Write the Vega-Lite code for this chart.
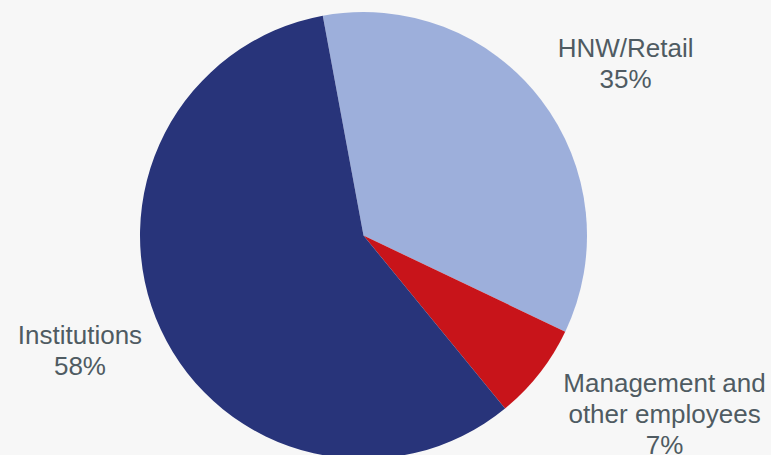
{
  "$schema": "https://vega.github.io/schema/vega-lite/v6.json",
  "width": 727,
  "height": 455,
  "autosize": "none",
  "padding": {"left": 0, "top": 8, "right": 44, "bottom": 0},
  "background": "#F7F7F7",
  "view": {"stroke": null},
  "data": {
    "values": [
      {"segment": "HNW/Retail", "label": "HNW/Retail\n35%", "share": 35, "rank": 1},
      {"segment": "Management and other employees", "label": "Management and\nother employees\n7%", "share": 7, "rank": 2},
      {"segment": "Institutions", "label": "Institutions\n58%", "share": 58, "rank": 3}
    ]
  },
  "encoding": {
    "theta": {"field": "share", "type": "quantitative", "stack": true, "scale": {"range": [-0.1833, 6.0999]}},
    "order": {"field": "rank", "type": "ordinal"}
  },
  "layer": [
    {
      "mark": {"type": "arc", "radius": 223.5, "stroke": null},
      "encoding": {
        "color": {
          "field": "segment",
          "type": "nominal",
          "scale": {
            "domain": ["HNW/Retail", "Management and other employees", "Institutions"],
            "range": ["#9DAFDB", "#C8141A", "#28347A"]
          },
          "legend": null
        }
      }
    },
    {
      "mark": {"type": "text", "radius": 314, "dx": 13, "dy": 5, "font": "Liberation Sans", "fontSize": 26, "lineHeight": 31, "lineBreak": "\n", "align": "center", "baseline": "middle", "color": "#4F5B62"},
      "encoding": {"text": {"condition": {"test": "datum.rank == 1", "field": "label"}, "value": ""}}
    },
    {
      "mark": {"type": "text", "radius": 349.5, "dx": 26, "dy": -67, "font": "Liberation Sans", "fontSize": 26, "lineHeight": 31, "lineBreak": "\n", "align": "center", "baseline": "middle", "color": "#4F5B62"},
      "encoding": {"text": {"condition": {"test": "datum.rank == 2", "field": "label"}, "value": ""}}
    },
    {
      "mark": {"type": "text", "radius": 306, "dx": -6, "dy": -28, "font": "Liberation Sans", "fontSize": 26, "lineHeight": 31, "lineBreak": "\n", "align": "center", "baseline": "middle", "color": "#4F5B62"},
      "encoding": {"text": {"condition": {"test": "datum.rank == 3", "field": "label"}, "value": ""}}
    }
  ]
}
